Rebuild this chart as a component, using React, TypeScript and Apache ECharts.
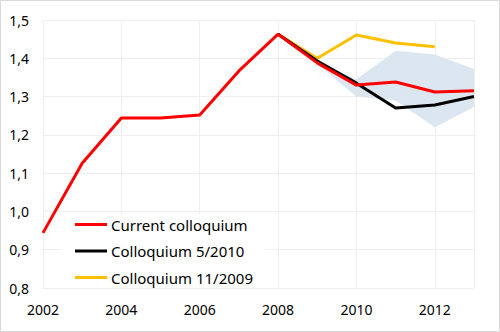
import React, { useEffect, useRef } from "react";
import * as echarts from "echarts";

const years = [2002, 2003, 2004, 2005, 2006, 2007, 2008, 2009, 2010, 2011, 2012, 2013];
const currentColloquium = [0.944, 1.126, 1.244, 1.244, 1.252, 1.367, 1.463, 1.388, 1.33, 1.338, 1.312, 1.315];
const colloquium2010 = [null, null, null, null, null, null, 1.463, 1.393, 1.335, 1.27, 1.278, 1.3];
const colloquium2009 = [null, null, null, null, null, null, 1.463, 1.4, 1.461, 1.44, 1.43, null];
const bandLower = [null, null, null, null, null, null, null, 1.385, 1.3, 1.29, 1.22, 1.273];
const bandUpper = [null, null, null, null, null, null, null, 1.39, 1.345, 1.42, 1.41, 1.372];

const FONT = "Noto Sans";

function pairs(vals: (number | null)[]) {
  return years.map((y, i) => [y, vals[i]]);
}

export default function App() {
  const ref = useRef<HTMLDivElement>(null);
  useEffect(() => {
    if (!ref.current) return;
    const chart = echarts.init(ref.current, undefined, { renderer: "svg" });
    const upperPts: number[][] = [];
    const lowerPts: number[][] = [];
    years.forEach((y, i) => {
      if (bandUpper[i] != null) upperPts.push([y, bandUpper[i] as number]);
      if (bandLower[i] != null) lowerPts.push([y, bandLower[i] as number]);
    });
    const bandPolygon = upperPts.concat(lowerPts.slice().reverse());
    chart.setOption({
      animation: false,
      backgroundColor: "#ffffff",
      textStyle: { fontFamily: FONT },
      grid: { left: 43, right: 26, top: 20, bottom: 44 },
      graphic: [
        {
          type: "rect",
          shape: { x: 0.5, y: 0.5, width: 499, height: 331 },
          style: { fill: "none", stroke: "#d9d9d9", lineWidth: 1 },
          silent: true,
        },
      ],
      xAxis: {
        type: "value",
        min: 2002,
        max: 2013,
        interval: 2,
        axisLine: { show: false },
        axisTick: { show: false },
        axisLabel: {
          margin: 14,
          fontSize: 14,
          fontFamily: FONT,
          color: "#000",
          formatter: (v: number) => (v === 2013 ? "" : String(v)),
        },
        splitLine: { show: true, lineStyle: { color: "#eeeeee", width: 1 } },
      },
      yAxis: {
        type: "value",
        min: 0.8,
        max: 1.5,
        interval: 0.1,
        axisLine: { show: false },
        axisTick: { show: false },
        axisLabel: {
          margin: 14,
          fontSize: 14,
          fontFamily: FONT,
          color: "#000",
          formatter: (v: number) => v.toFixed(1).replace(".", ","),
        },
        splitLine: { show: true, lineStyle: { color: "#eeeeee", width: 1 } },
      },
      legend: {
        orient: "vertical",
        left: 62,
        top: 214,
        padding: [3, 12, 3, 13],
        backgroundColor: "#ffffff",
        itemWidth: 32,
        itemHeight: 3,
        itemGap: 11.5,
        icon: "rect",
        textStyle: { fontSize: 15, fontFamily: FONT, color: "#000", padding: [0, 0, 0, -1] },
        data: ["Current colloquium", "Colloquium 5/2010", "Colloquium 11/2009"],
      },
      series: [
        {
          name: "band",
          type: "custom",
          data: [[0]],
          silent: true,
          z: 1,
          renderItem: (_params: any, api: any) => ({
            type: "polygon",
            shape: { points: bandPolygon.map((p) => api.coord(p)) },
            style: { fill: "#dce6f1", stroke: "none" },
          }),
        },
        {
          name: "Colloquium 11/2009",
          type: "line",
          data: pairs(colloquium2009),
          symbol: "none",
          color: "#ffc000",
          lineStyle: { width: 3, color: "#ffc000" },
          z: 2,
        },
        {
          name: "Colloquium 5/2010",
          type: "line",
          data: pairs(colloquium2010),
          symbol: "none",
          color: "#000000",
          lineStyle: { width: 3, color: "#000000" },
          z: 3,
        },
        {
          name: "Current colloquium",
          type: "line",
          data: pairs(currentColloquium),
          symbol: "none",
          color: "#ff0000",
          lineStyle: { width: 3, color: "#ff0000" },
          z: 4,
        },
      ],
    });
    return () => chart.dispose();
  }, []);
  return (
    <div
      ref={ref}
      style={{ position: "absolute", left: 0, top: 0, width: 500, height: 332 }}
    />
  );
}
